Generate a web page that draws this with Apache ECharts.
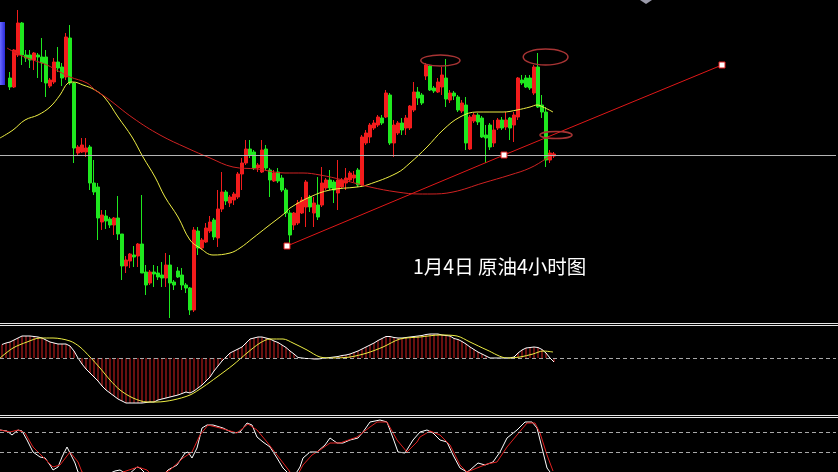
<!DOCTYPE html>
<html><head><meta charset="utf-8">
<script src="https://cdn.jsdelivr.net/npm/echarts@6/dist/echarts.min.js"></script>
<style>html,body{margin:0;padding:0;background:#000;}#c{width:838px;height:472px;}</style>
</head><body><div id="c"></div>
<script>
// ---- data ----
const N_SLOTS = 209;          // bar slots across the screen
const FIRST_BAR = 2;          // slot of the first candle
const categories = Array.from({length: N_SLOTS}, (_, i) => 'K' + (i + 1));

// [open, close, low, high]
const candles = [
[50.08,49.72,49.60,50.32],[49.72,51.20,49.68,51.24],[51.00,52.28,50.92,52.80],[52.28,51.00,50.60,52.32],
[51.00,50.88,50.72,51.20],[51.00,50.80,50.48,51.20],[50.80,51.08,50.40,51.12],[51.00,50.92,50.08,51.08],
[50.92,50.68,49.92,51.68],[50.92,49.88,49.32,51.20],[49.76,50.00,49.68,50.08],[49.92,50.72,49.84,50.88],
[50.72,50.48,50.32,51.32],[50.52,50.08,49.76,50.68],[50.12,51.72,50.00,51.88],[51.68,49.88,49.80,52.20],
[49.88,47.28,46.68,49.92],[47.08,47.32,47.00,47.40],[47.12,47.40,47.08,47.68],[47.12,47.28,46.92,47.68],
[47.32,45.88,45.60,47.40],[45.88,45.52,45.40,46.80],[45.72,44.48,43.60,45.88],[44.32,44.60,44.00,44.80],
[44.56,44.36,44.04,44.80],[44.44,44.20,44.08,44.52],[44.20,44.48,43.80,44.52],[44.48,43.84,43.60,45.36],
[43.84,42.56,42.00,43.84],[42.56,42.80,42.28,42.96],[42.76,43.04,42.48,43.08],[43.00,42.92,42.52,43.36],
[42.96,43.44,42.52,43.48],[43.44,42.28,42.28,45.40],[42.32,41.80,41.40,42.60],[41.88,42.32,41.80,42.40],
[42.32,42.24,41.72,42.60],[42.28,42.12,42.00,42.56],[42.20,42.08,41.72,42.72],[42.08,42.60,41.72,43.08],
[42.60,41.88,40.48,43.00],[41.92,41.80,41.60,42.00],[42.36,42.12,42.08,42.52],[42.20,41.80,41.60,42.48],
[41.80,41.68,41.48,41.88],[41.68,40.80,40.60,41.72],[40.80,44.00,40.72,44.12],[43.96,43.28,43.00,44.12],
[43.28,43.60,43.20,43.68],[43.52,44.08,43.48,44.28],[43.96,44.32,43.88,44.56],[44.40,43.72,43.60,44.48],
[43.68,44.84,43.32,45.60],[44.84,45.52,44.72,46.32],[45.52,45.16,45.00,45.60],[45.08,45.32,44.92,45.40],
[45.20,45.44,45.00,45.52],[45.32,46.24,45.24,46.32],[46.24,46.68,45.60,46.88],[46.68,47.24,46.60,47.60],
[47.24,47.00,46.88,47.60],[47.12,46.48,46.40,47.20],[46.48,46.60,46.32,46.68],[46.32,47.20,46.28,47.60],
[47.24,46.48,46.40,47.40],[46.40,46.00,45.32,46.48],[45.96,46.28,45.92,46.40],[46.32,45.96,45.88,46.48],
[46.08,45.60,45.52,46.20],[45.60,44.68,44.52,45.68],[44.68,43.80,43.48,44.80],[44.20,44.68,44.00,44.72],
[44.28,45.08,44.20,45.20],[44.68,45.20,44.64,45.32],[44.92,45.92,44.12,46.00],[45.32,44.92,44.72,45.40],
[44.68,45.08,44.12,45.32],[45.00,44.52,44.40,46.12],[45.00,45.88,44.92,46.52],[45.68,46.00,45.60,46.08],
[46.00,45.68,45.60,46.40],[45.92,45.60,45.08,46.00],[45.48,46.00,44.80,46.80],[45.72,46.00,45.68,46.08],
[45.88,46.08,45.60,46.48],[46.00,46.28,45.92,46.36],[46.08,46.20,45.92,46.36],[46.40,45.80,45.72,46.48],
[45.80,47.72,45.72,47.80],[47.48,47.88,47.40,48.00],[47.72,48.20,47.48,48.28],[48.08,48.28,48.00,48.40],
[48.20,48.52,48.12,48.60],[48.48,48.28,48.20,48.60],[48.52,49.48,48.48,49.60],[49.40,47.48,47.40,49.48],
[47.48,48.20,46.92,48.40],[47.88,48.28,47.80,48.36],[48.28,48.00,47.80,48.48],[48.08,48.48,47.80,48.60],
[48.08,48.96,48.00,49.00],[48.80,49.52,48.72,49.92],[49.52,49.28,49.00,49.72],[49.40,49.08,49.00,49.48],
[50.16,50.60,50.00,50.68],[50.56,49.60,49.56,50.60],[49.68,49.56,49.48,49.76],[49.52,49.92,49.48,50.08],
[49.72,50.20,49.40,50.52],[50.08,49.24,48.92,50.84],[49.20,49.48,49.08,49.60],[49.48,49.36,49.20,49.56],
[49.32,48.80,48.72,49.40],[48.76,49.08,48.68,49.20],[49.00,47.48,47.20,49.32],[47.24,48.52,47.20,48.60],
[48.36,48.60,48.28,48.68],[48.60,48.32,48.20,48.68],[48.48,47.72,47.68,48.56],[47.80,47.68,46.68,48.20],
[48.20,47.32,47.20,48.28],[47.48,48.00,47.32,48.40],[48.08,48.40,48.00,48.48],[48.40,48.08,48.00,48.52],
[48.12,48.40,48.00,48.72],[48.48,48.08,47.60,48.52],[48.20,48.60,47.52,48.72],[48.52,50.08,48.40,50.12],
[50.00,49.88,49.80,50.20],[50.08,49.72,49.68,50.20],[50.08,49.68,49.60,50.20],[49.48,50.52,49.40,50.60],
[50.52,48.92,48.88,51.08],[49.00,48.72,48.48,49.40],[48.72,46.80,46.52,48.92],[46.80,47.08,46.68,47.20],
[46.96,47.04,46.88,47.12]
];

// moving averages [slot, price]
const maShort = [[-0.5,47.68],[2.75,48.00],[5.75,48.40],[9,48.60],[12,48.92],[14.5,49.40],[16.5,49.88],[17.75,49.92],
[20.25,49.80],[23.25,49.60],[25.75,49.28],[29,48.52],[32.5,47.72],[35.25,46.92],[38.25,46.12],[40.75,45.32],[44,44.52],
[47,43.60],[49.5,43.28],[52.75,43.00],[57,43.08],[59.5,43.28],[62.75,43.68],[66.25,44.12],[70.75,44.68],[72,44.88],
[77,45.32],[82,45.60],[88.75,45.72],[91.25,45.80],[98.75,46.28],[102,46.68],[106.25,47.32],[110.25,48.00],[114.5,48.52],
[118.75,48.72],[125.25,48.72],[128.75,48.80],[132,48.92],[133.75,49.00],[135.25,48.92],[137.75,48.72]];
const maLong = [[1.25,51.28],[4.5,51.00],[7.75,50.80],[11.25,50.60],[14.5,50.32],[17,50.12],[21.25,49.88],[23.25,49.60],
[26.25,49.28],[32.75,48.48],[39.5,47.80],[46.25,47.28],[52,46.88],[57.75,46.52],[63.75,46.44],[70.75,46.28],[75.25,46.28],
[79.5,46.20],[85.25,46.00],[92,45.72],[98.75,45.52],[104.5,45.44],[107,45.44],[112.75,45.52],[120.25,45.88],[127,46.20],
[132,46.48],[136.25,46.88],[137.75,47.08]];

const lastPrice = 47.00;
const trendLine = [[71.25,43.36],[125.5,47.00],[180,50.60]];
// [slot, price, half-width in slots, half-height in price]
const ellipses = [[109.6,50.78,4.9,0.22],[135.9,50.92,5.6,0.32],[138.5,47.80,4.0,0.14]];

// MACD panel
const macdHist = [0.135,0.15,0.16,0.18,0.20,0.22,0.22,0.22,0.215,0.21,
0.20,0.18,0.16,0.15,0.14,0.14,0.14,0.12,0.07,0.00,
-0.06,-0.11,-0.15,-0.19,-0.23,-0.28,-0.32,-0.35,-0.38,-0.41,
-0.43,-0.45,-0.45,-0.45,-0.45,-0.45,-0.445,-0.44,-0.44,-0.42,
-0.41,-0.40,-0.39,-0.38,-0.37,-0.355,-0.34,-0.35,-0.33,-0.30,
-0.27,-0.23,-0.19,-0.13,-0.08,-0.03,0.01,0.05,0.07,0.09,
0.11,0.15,0.19,0.20,0.21,0.21,0.20,0.19,0.17,0.155,
0.13,0.105,0.07,0.04,0.005,0,-0.005,-0.005,-0.01,-0.01,
-0.005,0,0.005,0.01,0.015,0.025,0.03,0.04,0.055,0.07,
0.09,0.11,0.13,0.15,0.175,0.195,0.215,0.215,0.205,0.20,
0.20,0.205,0.21,0.215,0.22,0.225,0.235,0.24,0.24,0.24,
0.23,0.225,0.22,0.195,0.185,0.165,0.14,0.11,0.085,0.06,
0.04,0.02,0,0,0,0,0,0,0.01,0.05,
0.08,0.10,0.105,0.11,0.105,0.085,0.05,0,-0.04];
const macdSignal = [[-0.5,0],[2.75,0.10],[6.25,0.16],[9.5,0.20],[12.75,0.20],[17,0.17],[19.5,0.11],[22,0.01],[24.5,-0.10],
[27,-0.22],[29.5,-0.32],[32.75,-0.40],[36.25,-0.44],[38.75,-0.44],[42.75,-0.42],[47,-0.37],[50.25,-0.29],[53.75,-0.19],
[57.75,-0.07],[61.25,0.05],[64.5,0.15],[67,0.19],[70.25,0.19],[72.75,0.15],[76.25,0.08],[79.5,0.01],[82.75,0],[87,0.01],
[91.25,0.05],[95.25,0.11],[99.5,0.19],[104.5,0.21],[109.5,0.23],[113.75,0.22],[117,0.16],[121.25,0.08],[126.25,0],
[129.5,0.01],[132.75,0.04],[135.25,0.07],[137.75,0.06]];

// oscillator panel
const oscFast = [[-0.5,74],[1.25,72],[2.5,64],[4,74],[5,72],[6.25,54],[7.75,30],[9.5,20],[10.75,18],[12,4],[12.75,-6],[14,0],
[15,20],[16.25,40],[17,28],[18.25,8],[19,-10],[23.25,-26],[28.25,-8],[29.5,-6],[31.5,-16],[33.75,0],[34.5,-2],[37,-22],
[39.5,-22],[41.5,-6],[43.75,4],[45.75,28],[46.5,30],[47.5,18],[48.75,38],[50,78],[51.25,84],[52.75,84],[55.25,78],
[57.75,68],[59.5,70],[61.25,88],[62.5,84],[63.75,60],[65.25,50],[67,40],[68.75,18],[70.25,-2],[71.25,-10],[72.75,-22],
[74.5,0],[75.25,18],[77,30],[78.75,30],[80.75,44],[82,58],[83.75,48],[85.25,48],[87,54],[89,58],[90.25,70],[92,90],
[94.5,94],[96.25,90],[97.75,58],[99,30],[100.75,28],[102.75,54],[104.5,70],[106.25,74],[107.75,68],[109.5,54],
[111.25,50],[112.75,24],[114.5,-2],[116.25,-10],[117,-6],[119,8],[120.75,4],[122.75,10],[124.5,30],[126.25,58],
[128.75,74],[130.75,90],[132.5,90],[133.75,78],[135,38],[136.25,-2],[137,-10],[137.75,-26]];
const oscSlow = [[-0.5,74],[2,70],[4,74],[5.75,68],[7.75,40],[10.25,20],[12.75,0],[14.5,4],[17,30],[19,10],[20,-10],
[24.5,-26],[28.75,-14],[34,0],[36.25,-6],[38.25,-22],[42,-6],[45.25,18],[47.5,30],[49.5,64],[51.5,84],[54.5,78],
[58.75,68],[61.5,86],[63.75,74],[66.25,50],[68.75,24],[71.25,-2],[72,-10],[73.5,-22],[75.25,4],[77.5,24],[79.5,34],
[82,48],[84.5,48],[88.75,60],[92,80],[93.75,90],[96.25,90],[98.75,54],[101.25,30],[103.75,50],[104.5,60],[107,72],
[109.5,64],[112,44],[114.5,4],[116.25,-10],[118.75,-2],[121.25,6],[123.75,10],[126.25,40],[128.75,64],[131.25,88],
[133.25,88],[134.5,68],[136.25,24],[137.75,-8]];
const oscLevels = [70, 30];

const captionText = '1月4日 原油4小时图';

// ---- chart ----
const candleData = categories.map((_, k) => candles[k - FIRST_BAR] || '-');
const UP = '#f21c1c', DOWN = '#1fe81f';

const chart = echarts.init(document.getElementById('c'), null, {renderer: 'canvas'});
chart.setOption({
  backgroundColor: '#000',
  animation: false,
  grid: [
    {left: 0, top: 0, width: 836, height: 322},
    {left: 0, top: 326, width: 836, height: 89},
    {left: 0, top: 418, width: 836, height: 54}
  ],
  xAxis: [
    {type: 'category', gridIndex: 0, data: categories, show: false, boundaryGap: true},
    {type: 'value', gridIndex: 0, min: -0.5, max: N_SLOTS - 0.5, show: false},
    {type: 'category', gridIndex: 1, data: categories, show: false, boundaryGap: true},
    {type: 'value', gridIndex: 1, min: -0.5, max: N_SLOTS - 0.5, show: false},
    {type: 'value', gridIndex: 2, min: -0.5, max: N_SLOTS - 0.5, show: false}
  ],
  yAxis: [
    {type: 'value', gridIndex: 0, min: 40.32, max: 53.2, show: false},
    {type: 'value', gridIndex: 1, min: -0.57, max: 0.32, show: false},
    {type: 'value', gridIndex: 2, min: -10, max: 98, show: false}
  ],
  series: [
    {
      type: 'candlestick', xAxisIndex: 0, yAxisIndex: 0, data: candleData, barWidth: 3,
      itemStyle: {color: UP, color0: DOWN, borderColor: UP, borderColor0: DOWN, borderWidth: 1},
      markLine: {silent: true, symbol: 'none', label: {show: false},
        lineStyle: {color: '#b4b4b4', type: 'solid', width: 1},
        data: [{yAxis: lastPrice}]},
      z: 2
    },
    {type: 'line', xAxisIndex: 1, yAxisIndex: 0, data: maShort, smooth: 0.4, symbol: 'none',
      lineStyle: {color: '#eeee44', width: 1}, z: 3},
    {type: 'line', xAxisIndex: 1, yAxisIndex: 0, data: maLong, smooth: 0.4, symbol: 'none',
      lineStyle: {color: '#d02222', width: 1}, z: 3},
    {type: 'line', xAxisIndex: 1, yAxisIndex: 0, data: trendLine, symbol: 'rect', symbolSize: 6,
      itemStyle: {color: '#ffffff', borderColor: '#e01818', borderWidth: 1},
      lineStyle: {color: '#e01818', width: 1}, z: 5},
    {type: 'custom', xAxisIndex: 1, yAxisIndex: 0, data: ellipses, encode: {x: 0, y: 1}, silent: true, z: 6,
      renderItem: function (params, api) {
        const c = api.coord([api.value(0), api.value(1)]);
        const s = api.size([api.value(2), api.value(3)]);
        return {type: 'ellipse', shape: {cx: c[0], cy: c[1], rx: s[0], ry: s[1]},
          style: {fill: null, stroke: '#a83434', lineWidth: 1.5}};
      }},
    {type: 'bar', xAxisIndex: 2, yAxisIndex: 1, data: macdHist, barWidth: 1,
      itemStyle: {color: '#d42020'},
      markLine: {silent: true, symbol: 'none', label: {show: false},
        lineStyle: {color: '#a8a8a8', type: [4, 3], width: 1}, data: [{yAxis: 0}]}},
    {type: 'line', xAxisIndex: 2, yAxisIndex: 1, data: macdHist, symbol: 'none',
      lineStyle: {color: '#ffffff', width: 1}, z: 3},
    {type: 'line', xAxisIndex: 3, yAxisIndex: 1, data: macdSignal, smooth: 0.3, symbol: 'none',
      lineStyle: {color: '#eeee44', width: 1}, z: 4},
    {type: 'line', xAxisIndex: 4, yAxisIndex: 2, data: oscFast, symbol: 'none', clip: true,
      lineStyle: {color: '#ffffff', width: 1}, z: 3,
      markLine: {silent: true, symbol: 'none', label: {show: false},
        lineStyle: {color: '#a8a8a8', type: [4, 3], width: 1},
        data: oscLevels.map(v => ({yAxis: v}))}},
    {type: 'line', xAxisIndex: 4, yAxisIndex: 2, data: oscSlow, symbol: 'none', clip: true,
      lineStyle: {color: '#e02020', width: 1}, z: 4}
  ],
  graphic: [
    {type: 'rect', shape: {x: 0, y: 22, width: 5, height: 63},
      style: {fill: new echarts.graphic.LinearGradient(0, 0, 1, 0, [{offset: 0, color: '#6a6aff'}, {offset: 1, color: '#2828d8'}])}},
    {type: 'polygon', shape: {points: [[640, 0], [652, 0], [646, 4]]}, style: {fill: '#9a9aaa'}},
    {type: 'line', shape: {x1: 0, y1: 323.5, x2: 838, y2: 323.5}, style: {stroke: '#e6e6e6', lineWidth: 1}},
    {type: 'line', shape: {x1: 0, y1: 325.5, x2: 838, y2: 325.5}, style: {stroke: '#e6e6e6', lineWidth: 1}},
    {type: 'line', shape: {x1: 0, y1: 415.5, x2: 838, y2: 415.5}, style: {stroke: '#e6e6e6', lineWidth: 1}},
    {type: 'line', shape: {x1: 0, y1: 417.5, x2: 838, y2: 417.5}, style: {stroke: '#e6e6e6', lineWidth: 1}},
    {type: 'text', left: 413, top: 257, z: 20,
      style: {text: captionText, fill: '#ffffff', font: '19.5px "Noto Sans CJK SC", sans-serif'}}
  ]
});
</script></body></html>
